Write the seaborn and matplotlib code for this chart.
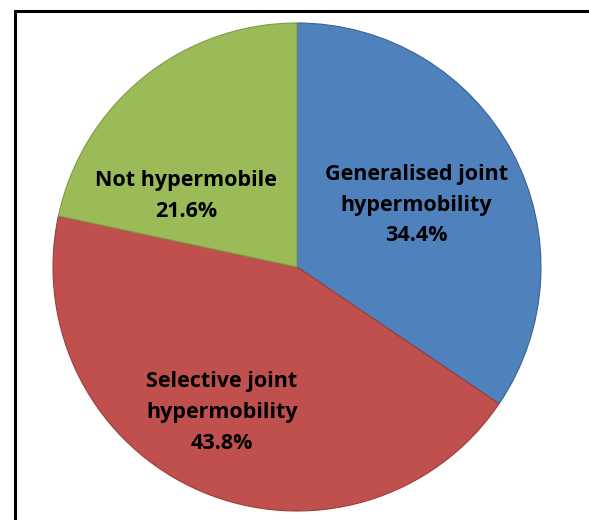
import matplotlib
matplotlib.use("Agg")
import matplotlib.pyplot as plt
from matplotlib.lines import Line2D
import seaborn as sns

categories = ["Generalised joint\nhypermobility", "Selective joint\nhypermobility", "Not hypermobile"]
shares = [34.4, 43.8, 21.6]
colors = ["#4F81BD", "#C0504D", "#9BBB59"]
edges = ["#3A6494", "#9B3D3B", "#7E9A48"]

sns.set_theme(style="white")
plt.rcParams["font.family"] = ["Open Sans", "DejaVu Sans"]

fig = plt.figure(figsize=(5.89, 5.20), dpi=100, facecolor="white")
ax = fig.add_axes([0.09, 0.0173, 0.8285, 0.9385])

wedges, _ = ax.pie(shares, colors=colors, startangle=90, counterclock=False,
                   radius=1.0, wedgeprops=dict(linewidth=0))
for w, ec in zip(wedges, edges):
    w.set_edgecolor(ec)
    w.set_linewidth(0.8)

label_pos = [(0.488, 0.254), (-0.307, -0.598), (-0.455, 0.291)]
for name, val, (x, y) in zip(categories, shares, label_pos):
    ax.text(x, y, f"{name}\n{val:.1f}%", ha="center", va="center",
            fontsize=15.5, fontweight="bold", color="black", linespacing=1.62)

ax.set_xlim(-1, 1)
ax.set_ylim(-1, 1)
ax.set_aspect("equal")
ax.axis("off")

# frame lines (top and left)
fig.add_artist(Line2D([15 / 589, 1.0], [1 - 11 / 520, 1 - 11 / 520],
                      transform=fig.transFigure, color="black", linewidth=2.2))
fig.add_artist(Line2D([15 / 589, 15 / 589], [0, 1 - 11 / 520],
                      transform=fig.transFigure, color="black", linewidth=2.2))

fig.savefig("out.png", dpi=100, facecolor="white")
plt.close(fig)
